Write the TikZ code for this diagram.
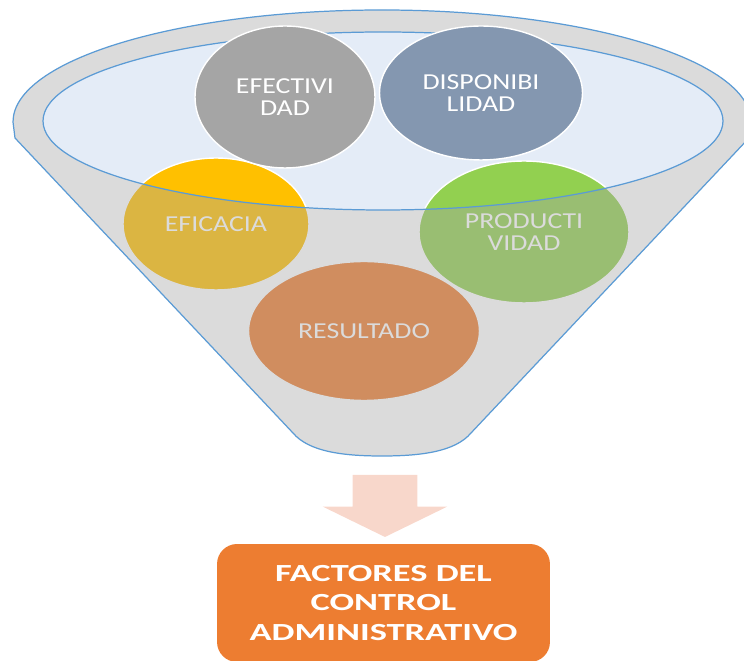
\documentclass[tikz,border=0pt]{standalone}
\usepackage{fontspec}
\setmainfont{Carlito}[FakeStretch=1.22]
\newfontfamily\boxfont{Carlito}[FakeStretch=1.48]
\usetikzlibrary{shapes.geometric,shapes.arrows}

\definecolor{funnelgray}{HTML}{A5A5A5}
\definecolor{funnelblue}{HTML}{5B9BD5}
\definecolor{mouthblue}{HTML}{E4ECF7}
\definecolor{efecgray}{HTML}{A5A5A5}
\definecolor{dispblue}{HTML}{8497B0}
\definecolor{eficyellow}{HTML}{FFC000}
\definecolor{prodgreen}{HTML}{92D050}
\definecolor{resorange}{HTML}{ED7D31}
\definecolor{arrowpink}{HTML}{F8D7CB}

\begin{document}
\begin{tikzpicture}[x=0.02cm,y=-0.02cm,inner sep=0pt,outer sep=0pt,
factor/.style={ellipse,draw=white,line width=0.8pt,text=white,align=center,font=\fontsize{13}{12.8}\selectfont},
funnel/.style={fill=funnelgray,fill opacity=0.4,draw=funnelblue,line width=0.7pt,even odd rule},
goal/.style={rectangle,rounded corners=0.4cm,fill=resorange,text=white,align=center,minimum width=6.66cm,minimum height=2.36cm,font=\boxfont\bfseries\fontsize{14}{17}\selectfont}]
\useasboundingbox (0,0) rectangle (744,661);

% mouth of the funnel
\fill[mouthblue] (383,121) ellipse[x radius=340,y radius=89];

% factors that fall into the funnel
\draw (216,224) node[factor,fill=eficyellow,minimum width=3.72cm,minimum height=2.64cm] (efic) {EFICACIA};
\draw (524,232) node[factor,fill=prodgreen,minimum width=4.2cm,minimum height=2.84cm] (prod) {PRODUCTI\\VIDAD};
\draw (364,331) node[factor,fill=resorange,minimum width=4.62cm,minimum height=2.78cm] (res) {RESULTADO};

% body of the funnel
\path[funnel] (13,122) arc[start angle=180,end angle=360,x radius=369,y radius=112] -- (749,138) -- (471,433)
  .. controls (455,452) and (420,456) .. (382,456) .. controls (344,456) and (309,452) .. (293,433) -- (15,138) -- cycle
  (383,121) ellipse[x radius=340,y radius=89];

% factors on top
\draw (285,97) node[factor,fill=efecgray,minimum width=3.6cm,minimum height=2.84cm] (efec) {EFECTIVI\\DAD};
\draw (481,93) node[factor,fill=dispblue,minimum width=4.06cm,minimum height=2.68cm] (disp) {DISPONIBI\\LIDAD};

% result
\draw (385,475) node[single arrow,rotate=-90,anchor=tail,fill=arrowpink,inner ysep=0.64cm,minimum height=1.24cm,
  single arrow head extend=0.6cm,single arrow tip angle=128] (down) {};
\draw (383.5,603) node[goal] (factors) {FACTORES DEL\\CONTROL\\ADMINISTRATIVO};
\end{tikzpicture}
\end{document}
